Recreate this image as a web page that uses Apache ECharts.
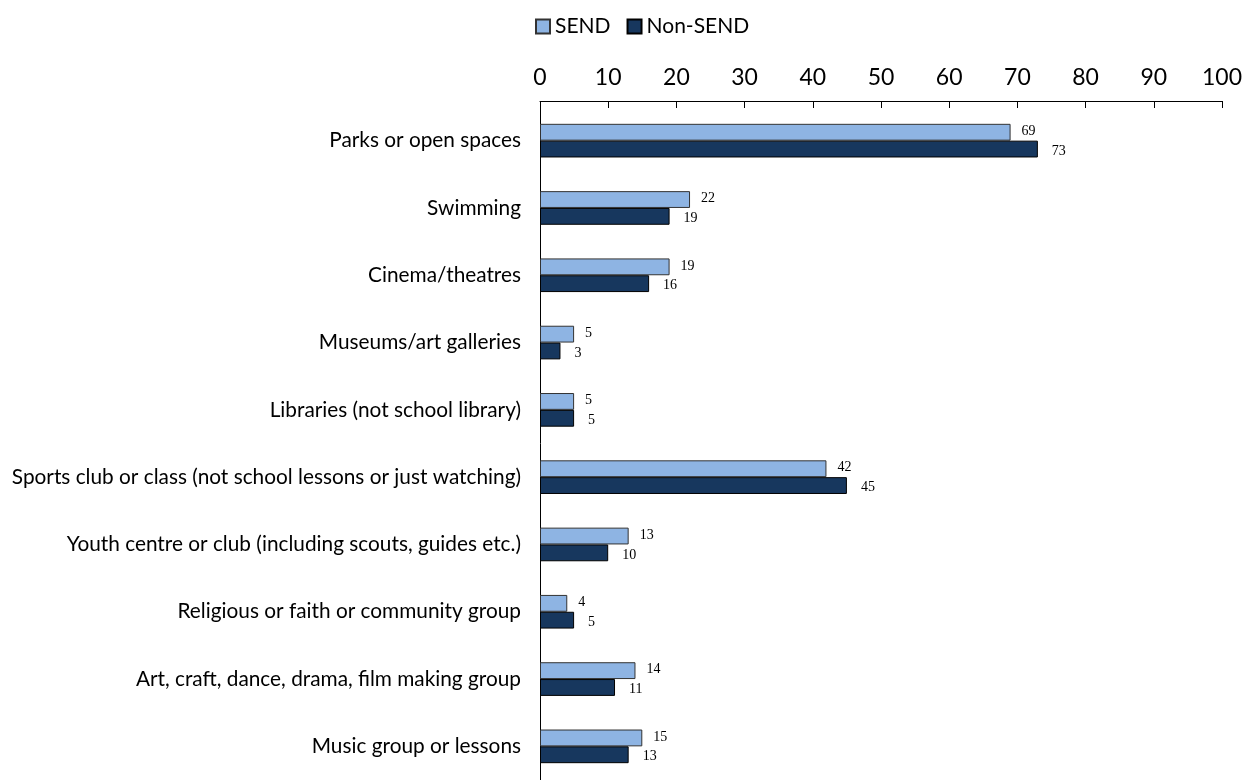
<!DOCTYPE html>
<html>
<head>
<meta charset="utf-8">
<script src="https://cdn.jsdelivr.net/npm/echarts@6/dist/echarts.min.js"></script>
<style>
  html, body { margin: 0; padding: 0; background: #fff; }
  #chart { width: 1247px; height: 780px; }
</style>
</head>
<body>
<div id="chart"></div>
<script>
// Activities, listed top to bottom
const categories = [
  'Parks or open spaces',
  'Swimming',
  'Cinema/theatres',
  'Museums/art galleries',
  'Libraries (not school library)',
  'Sports club or class (not school lessons or just watching)',
  'Youth centre or club (including scouts, guides etc.)',
  'Religious or faith or community group',
  'Art, craft, dance, drama, film making group',
  'Music group or lessons'
];
const sendValues = [69, 22, 19, 5, 5, 42, 13, 4, 14, 15];
const nonSendValues = [73, 19, 16, 3, 5, 45, 10, 5, 11, 13];
const seriesNames = ['SEND', 'Non-SEND'];
const xTicks = [0, 10, 20, 30, 40, 50, 60, 70, 80, 90, 100];

const FONT = 'Lato, "Open Sans", sans-serif';
const VALUE_FONT = '"Liberation Serif", "DejaVu Serif", serif';

const chart = echarts.init(document.getElementById('chart'), null, { renderer: 'canvas' });

const labelStyle = {
  show: true,
  position: 'right',
  fontFamily: VALUE_FONT,
  fontSize: 14,
  color: '#000'
};

chart.setOption({
  animation: false,
  textStyle: { fontFamily: FONT },
  legend: {
    top: 11,
    left: 530,
    icon: 'rect',
    itemWidth: 14,
    itemHeight: 14,
    itemGap: 16,
    textStyle: { fontFamily: FONT, fontSize: 21, color: '#000', padding: [0, 0, 0, 0] },
    data: seriesNames
  },
  grid: {
    left: 540,
    right: 25,
    top: 107,
    height: 680,
    containLabel: false
  },
  xAxis: {
    type: 'value',
    position: 'top',
    min: xTicks[0],
    max: xTicks[xTicks.length - 1],
    interval: 10,
    offset: 6,
    axisLine: { show: true, lineStyle: { color: '#000', width: 1 } },
    axisTick: { show: true, inside: true, length: 7, lineStyle: { color: '#000' } },
    axisLabel: { fontFamily: FONT, fontSize: 23, color: '#000', margin: 12 },
    splitLine: { show: false }
  },
  yAxis: {
    type: 'category',
    inverse: true,
    data: categories,
    axisLine: { show: true, lineStyle: { color: '#000', width: 1 } },
    axisTick: { show: false },
    axisLabel: { fontFamily: FONT, fontSize: 20.8, color: '#000', margin: 19 }
  },
  series: [
    {
      name: seriesNames[0],
      type: 'bar',
      data: sendValues,
      barGap: '0%',
      barCategoryGap: '50%',
      itemStyle: { color: '#8EB4E3', borderColor: '#333', borderWidth: 1 },
      label: Object.assign({}, labelStyle, { distance: 11, offset: [0, -1] })
    },
    {
      name: seriesNames[1],
      type: 'bar',
      data: nonSendValues,
      barGap: '0%',
      barCategoryGap: '50%',
      itemStyle: { color: '#17375E', borderColor: '#000', borderWidth: 1 },
      label: Object.assign({}, labelStyle, { distance: 14, offset: [0, 2] })
    }
  ]
});
</script>
</body>
</html>
